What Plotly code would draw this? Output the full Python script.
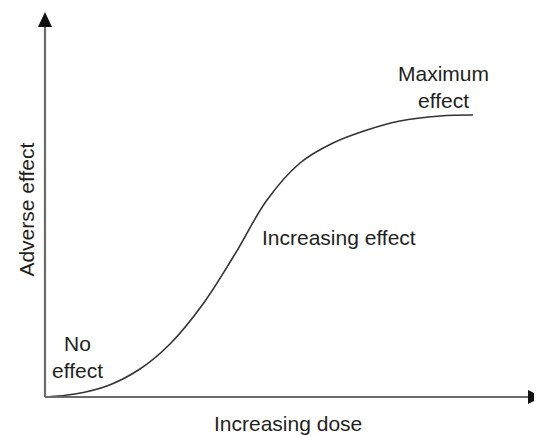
import plotly.graph_objects as go

# dose-response curve (dose 0-100, effect 0-100)
DOSE = [0, 6.04, 12.47, 19.11, 25.15, 31.79, 38.23, 44.67, 51.31, 57.95,
        64.79, 71.43, 79.48, 86.12]
EFFECT = [0, 0.76, 2.77, 7.05, 13.35, 23.43, 36.02, 49.62, 58.94, 63.98,
          67.25, 69.52, 70.78, 71.03]

LABELS = {
    "x": "Increasing dose",
    "y": "Adverse effect",
    "no": "No<br>effect",
    "rise": "Increasing effect",
    "max": "Maximum<br>effect",
}

FONT = "Liberation Sans, Arial, sans-serif"
TEXT_COLOR = "#231f20"
AXIS_COLOR = "#6b6b6b"

fig = go.Figure()

fig.add_trace(
    go.Scatter(
        x=DOSE,
        y=EFFECT,
        mode="lines",
        line=dict(color="#333333", width=1.6, shape="spline", smoothing=1.0),
        hoverinfo="skip",
        showlegend=False,
    )
)

# axis lines with arrowheads
fig.add_shape(type="line", x0=0, y0=0, x1=0, y1=94, line=dict(color=AXIS_COLOR, width=2.2))
fig.add_shape(type="line", x0=0, y0=0, x1=97.5, y1=0, line=dict(color=AXIS_COLOR, width=2.2))
fig.add_shape(
    type="path",
    path="M -1.41,93.2 L 1.41,93.2 L 0,96.98 Z",
    fillcolor="#111111",
    line=dict(width=0),
)
fig.add_shape(
    type="path",
    path="M 97.18,-1.76 L 97.18,1.76 L 100,0 Z",
    fillcolor="#111111",
    line=dict(width=0),
)

font = dict(family=FONT, size=21, color=TEXT_COLOR)
fig.add_annotation(x=80.1, y=78.1, text=LABELS["max"], showarrow=False, font=font, align="center")
fig.add_annotation(x=43.3, y=40.3, text=LABELS["rise"], showarrow=False, font=font, xanchor="left")
fig.add_annotation(x=6.6, y=10.1, text=LABELS["no"], showarrow=False, font=font, align="center")
fig.add_annotation(x=48.8, y=-6.6, text=LABELS["x"], showarrow=False, font=font)
fig.add_annotation(x=-3.9, y=47.1, text=LABELS["y"], showarrow=False, font=font, textangle=-90)

# the page adds an 8px body margin, so the figure is 8px smaller each way
fig.update_xaxes(range=[-7.44, 100], visible=False, fixedrange=True)
fig.update_yaxes(range=[-10.076, 97.98], visible=False, fixedrange=True)

fig.update_layout(
    width=534,
    height=429,
    margin=dict(l=0, r=0, t=0, b=0),
    plot_bgcolor="rgba(0,0,0,0)",
    paper_bgcolor="white",
)

fig.write_html("out.html")
